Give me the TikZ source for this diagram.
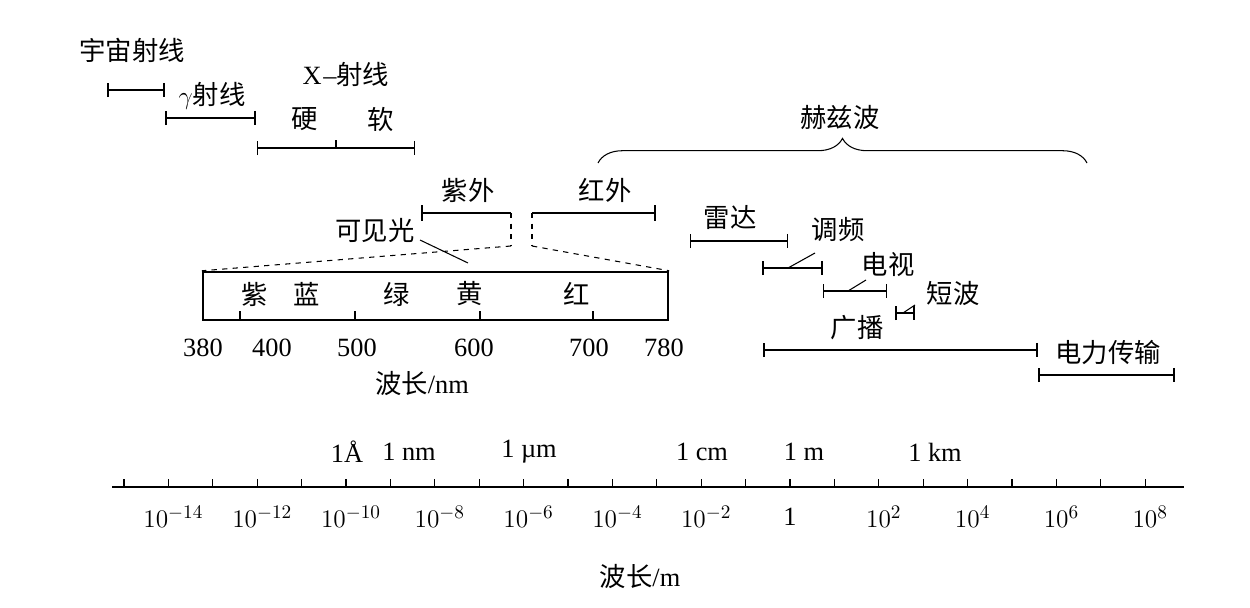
\documentclass[tikz,border=0pt]{standalone}
\usepackage{fontspec}
\setmainfont{Liberation Serif}
\newfontfamily\cjk{Noto Sans CJK SC}
\usetikzlibrary{arrows.meta,decorations.pathreplacing}

\begin{document}
\begin{tikzpicture}[x=0.02cm,y=-0.02cm,
    font=\fontsize{15pt}{17pt}\selectfont,
    lbl/.style={inner sep=1pt, font=\cjk\fontsize{15pt}{17pt}\selectfont},
    num/.style={inner sep=1pt},
    band/.style={{Bar[width=8pt]}-{Bar[width=8pt]}, line width=1.4pt},
    thinband/.style={{Bar[width=8pt]}-{Bar[width=8pt]}, semithick},
    dashline/.style={dashed, semithick},
    lead/.style={semithick}
]
\useasboundingbox (0,0) rectangle (1250,608);

% top bands
\node[lbl] (cosmic) at (132,50) {宇宙射线};
\coordinate (c1) at (107,90); \coordinate (c2) at (165,90);
\draw[band] (c1) -- (c2);
\node[lbl] (gamma) at (212,96) {\fontspec{Liberation Serif}$\gamma$\cjk 射线};
\coordinate (g1) at (165,118); \coordinate (g2) at (256,118);
\draw[band] (g1) -- (g2);
\node[num] (xray) at (346,74) {X\kern1pt--\cjk 射线};
\node[lbl] (hard) at (305,119) {硬};
\node[lbl] (soft) at (381,119) {软};
\coordinate (x1) at (257,148); \coordinate (x2) at (415,148); \coordinate (xm) at (336,148);
\draw[thinband] (x1) -- (x2);
\draw[semithick] (xm) -- ++(0,-8);

% hertz waves
\node[lbl] (hertz) at (840,118) {赫兹波};
\coordinate (h1) at (598,163); \coordinate (h2) at (1087,163);
\draw[semithick, decorate, decoration={brace, amplitude=14pt}] (h1) -- (h2);

% UV / IR
\node[lbl] (uv) at (468,190) {紫外};
\node[lbl] (ir) at (605,190) {红外};
\coordinate (uv1) at (422,213); \coordinate (uv2) at (511,213);
\coordinate (ir1) at (532,213); \coordinate (ir2) at (655,213);
\draw[semithick] (uv1) ++(0,-8) -- ++(0,16);
\draw[semithick] (ir2) ++(0,-8) -- ++(0,16);
\draw[semithick] (uv1) -- (uv2);
\draw[semithick] (ir1) -- (ir2);
\coordinate (uv3) at (511,246); \coordinate (ir3) at (532,246);
\draw[dashline] (uv2) -- (uv3);
\draw[dashline] (ir1) -- (ir3);

% visible spectrum
\node[draw, line width=1.4pt, inner sep=0pt,
      minimum width=9.3cm, minimum height=0.96cm] (vis) at (435.5,296) {};
\draw[dashline] (uv3) -- (vis.north west);
\draw[dashline] (ir3) -- (vis.north east);
\node[lbl] (vislbl) at (375,230) {可见光};
\coordinate (v1) at (420,240); \coordinate (v2) at (468,263);
\draw[lead] (v1) -- (v2);
\foreach \x in {240,355,480,593}
  \draw[semithick] (\x,320) -- (\x,311);
\foreach \x/\t in {255/紫,307/蓝,397/绿,470/黄,577/红}
  \node[lbl] at (\x,294) {\t};
\foreach \x/\t in {203/380,272/400,357/500,474/600,589/700,664/780}
  \node[num] at (\x,348) {\t};
\node[lbl] (nmlbl) at (422,383) {波长\fontspec{Liberation Serif}/nm};

% radio bands
\node[lbl] (radar) at (730,218) {雷达};
\coordinate (r1) at (690,241); \coordinate (r2) at (788,241);
\draw[thinband] (r1) -- (r2);
\node[lbl] (fm) at (838,230) {调频};
\coordinate (f1) at (762,268); \coordinate (f2) at (823,268);
\draw[band] (f1) -- (f2);
\draw[lead] (788,268) -- (815,253);
\node[lbl] (tv) at (888,265) {电视};
\coordinate (t1) at (823,291); \coordinate (t2) at (887,291);
\draw[thinband] (t1) -- (t2);
\draw[lead] (848,291) -- (866,280);
\node[lbl] (sw) at (953,293) {短波};
\coordinate (s1) at (895,313); \coordinate (s2) at (915,313);
\draw[band] (s1) -- (s2);
\draw[lead] (903,313) -- (915,305);
\node[lbl] (bc) at (857,328) {广播};
\coordinate (b1) at (763,350); \coordinate (b2) at (1038,350);
\draw[band] (b1) -- (b2);
\node[lbl] (power) at (1108,352) {电力传输};
\coordinate (p1) at (1038,375); \coordinate (p2) at (1175,375);
\draw[band] (p1) -- (p2);

% wavelength axis
\coordinate (a1) at (112,487); \coordinate (a2) at (1184,487);
\draw[line width=1.6pt] (a1) -- (a2);
\foreach \k in {-15,...,8}
  \draw[semithick] ({790+44.4*\k},487) -- ++(0,-8);
\foreach \k in {-14,-12,...,-2}
  \node[num] at ({795+44.4*\k},517) {$10^{\k}$};
\node[num] at (790,517) {1};
\foreach \k in {2,4,6,8}
  \node[num] at ({795+44.4*\k},517) {$10^{\k}$};
\node[num] at (347,452) {1\AA};
\node[num] at (409,452) {1 nm};
\node[num] at (529,452) {1 \textmu m};
\node[num] at (702,452) {1 cm};
\node[num] at (804,452) {1 m};
\node[num] at (935,452) {1 km};
\node[lbl] (mlbl) at (640,576) {波长\fontspec{Liberation Serif}/m};
\end{tikzpicture}
\end{document}
